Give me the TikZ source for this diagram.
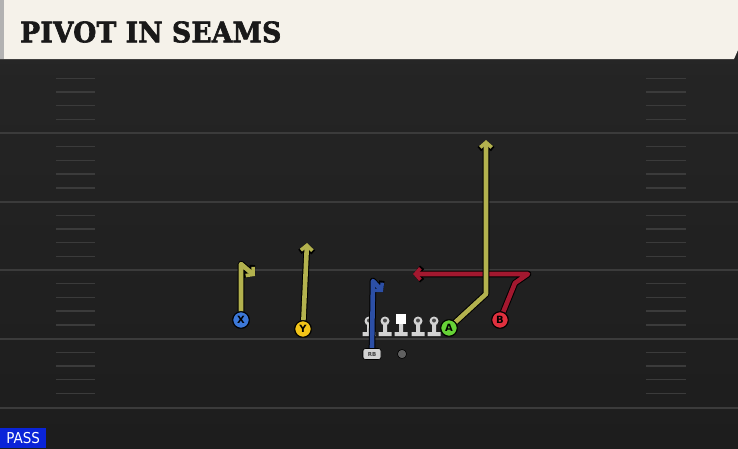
\documentclass[tikz,border=0pt]{standalone}
\usepackage{fontspec}
\newfontfamily\titlefont{DejaVu Serif Condensed}
\newfontfamily\tagfont{DejaVu Sans Condensed}
\setsansfont{DejaVu Sans}
\usetikzlibrary{arrows.meta}
\definecolor{fieldtop}{HTML}{262626}
\definecolor{fieldbot}{HTML}{1d1d1d}
\definecolor{yardline}{HTML}{3b3b3b}
\definecolor{header}{HTML}{F5F2EA}
\definecolor{routeyel}{HTML}{B3B24E}
\definecolor{routeblu}{HTML}{2C4FA6}
\definecolor{routered}{HTML}{A3182F}
\definecolor{plblue}{HTML}{3C78D8}
\definecolor{plyellow}{HTML}{F2C418}
\definecolor{plgreen}{HTML}{66D236}
\definecolor{plred}{HTML}{E0303E}
\definecolor{oline}{HTML}{D2D2D2}
\definecolor{passblue}{HTML}{0A24D8}
\tikzset{
  yard/.style={yardline,line width=2pt},
  hash/.style={yardline,line width=1.4pt},
  player/.style={circle,draw=black,line width=1pt,minimum size=16.5pt,inner sep=0pt,
    font=\sffamily\bfseries\fontsize{10}{10}\selectfont},
  rbbox/.style={fill=oline,draw=black,line width=0.6pt,rounded corners=2.5pt,minimum width=18pt,
    minimum height=11pt,inner sep=0pt,font=\sffamily\bfseries\fontsize{5.5}{5.5}\selectfont,text=black!75},
  route/.style={line width=4.6pt,line join=round,-{Straight Barb[length=5pt,width=11.5pt,line width=3.6pt]}},
  routebg/.style={black,line width=6.6pt,line join=round,-{Straight Barb[length=5.6pt,width=13.4pt,line width=5.4pt]}},
  olman/.pic={
    \fill[oline] (-2,-4)rectangle(2,6) (-6.5,5)rectangle(6.5,9);
    \fill[oline] (0,-6) circle (4.5);
    \fill[gray!60!black] (0,-6.5) circle (2);
  },
  center/.pic={
    \fill[oline] (-2,-4)rectangle(2,6) (-6.5,5)rectangle(6.5,9);
    \fill[white] (-5,-13)rectangle(5,-3);
  }
}
\begin{document}
\begin{tikzpicture}[x=1pt,y=-1pt]
\useasboundingbox (0,0) rectangle (738,448);
\shade[top color=fieldtop,bottom color=fieldbot] (0,0) rectangle (738,448);
% yard lines and hash marks
\foreach \yy in {133,201.5,270,338.5,408}
  \draw[yard] (0,\yy)--(738,\yy);
\foreach \yy in {64.5,133,201.5,270,338.5}
  \foreach \k in {1,...,4}{
    \draw[hash] (56,\yy+13.7*\k)--(95,\yy+13.7*\k);
    \draw[hash] (646,\yy+13.7*\k)--(686,\yy+13.7*\k);
  }
% header
\fill[black!85] (0,56) rectangle (738,64);
\fill[header] (0,0)--(738,0)--(738,50)--(734,59)--(0,59)--cycle;
\fill[black!30] (0,0) rectangle (4,59);
\node[anchor=west,inner sep=0pt,text=black!90] (title) at (20,32)
  {\resizebox{261pt}{21pt}{\titlefont\bfseries\addfontfeature{FakeBold=2.2,LetterSpace=1}PIVOT IN SEAMS}};
% offensive line
\foreach \xx/\nm in {369/lt,385/lg,418/rg,434/rt}
  \pic (\nm) at (\xx,327) {olman};
\pic (c) at (401,327) {center};
\node[rbbox] (rb) at (372,354) {RB};
\fill[gray!75!black,draw=black,line width=0.6pt] (402,354) circle (4.6);
% route points
\coordinate (xa) at (241,264);
\coordinate (xb) at (255,276);
\coordinate (ya) at (307,243);
\coordinate (ba) at (373,281);
\coordinate (bb) at (383,292);
\coordinate (aa) at (486,294);
\coordinate (ab) at (486,140);
\coordinate (bra) at (515,283);
\coordinate (brb) at (528,274);
\coordinate (brc) at (413,274);
% receivers
\node[player,fill=plblue] (x) at (241,320) {X};
\node[player,fill=plyellow] (y) at (303,329) {Y};
\node[player,fill=plgreen] (a) at (449,328) {A};
\node[player,fill=plred] (b) at (500,320) {B};
% routes
\draw[routebg] (b)--(bra)--(brb)--(brc);
\draw[route,routered] (b)--(bra)--(brb)--(brc);
\draw[routebg] (a)--(aa)--(ab);
\draw[route,routeyel] (a)--(aa)--(ab);
\draw[routebg] (x)--(xa)--(xb);
\draw[route,routeyel] (x)--(xa)--(xb);
\draw[routebg] (y)--(ya);
\draw[route,routeyel] (y)--(ya);
\draw[routebg] (rb.north)--(ba)--(bb);
\draw[route,routeblu] (rb.north)--(ba)--(bb);
\node[player,fill=plblue] at (x) {X};
\node[player,fill=plyellow] at (y) {Y};
\node[player,fill=plgreen] at (a) {A};
\node[player,fill=plred] at (b) {B};
\node[rbbox] at (rb) {RB};
% play type
\node[fill=passblue,text=white,anchor=south west,minimum width=46pt,minimum height=20pt,
  inner sep=0pt,font=\tagfont\fontsize{15}{15}\selectfont] (pass) at (0,448) {PASS};
\end{tikzpicture}
\end{document}
